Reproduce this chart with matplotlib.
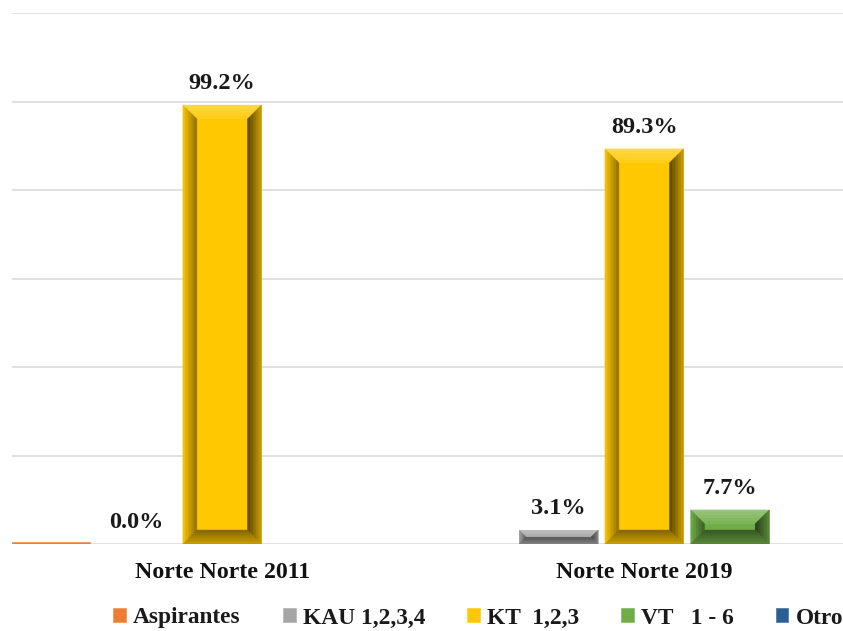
import numpy as np
import matplotlib
matplotlib.use("Agg")
import matplotlib.pyplot as plt
from matplotlib.patches import Polygon
from matplotlib.colors import to_rgb

# grouped bar chart, beveled bars like the office chart style
categories = ["Norte Norte 2011", "Norte Norte 2019"]
series = ["Aspirantes", "KAU 1,2,3,4", "KT  1,2,3", "VT   1 - 6", "Otro"]
colors = ["#ED7D31", "#A5A5A5", "#FFC800", "#70AD47", "#2B5F91"]

aspirantes = [0.4, 0.0]
kau = [0.0, 3.1]
kt = [99.2, 89.3]
vt = [0.0, 7.7]
otro = [0.0, 0.0]
values = [aspirantes, kau, kt, vt, otro]

# which bars carry a data label
labels_on = [[False, False], [True, True], [True, True], [False, True], [False, False]]

plt.rcParams['font.family'] = ['Liberation Serif', 'DejaVu Serif']
plt.rcParams['font.weight'] = 'bold'

fig = plt.figure(figsize=(8.43, 6.31), dpi=100)
ax = fig.add_axes([12 / 843, 87 / 631, 831 / 843, 0.8415])

x = np.arange(len(categories))
step = 0.203
width = 0.186

ax.set_xlim(-0.498, 1.471)
ax.set_ylim(0, 120)
ax.set_yticks(np.arange(0, 121, 20))
ax.yaxis.grid(True, color="#D9D9D9", lw=1.1)
ax.set_axisbelow(True)
ax.tick_params(axis="y", length=0, labelleft=False)
ax.tick_params(axis="x", length=0, pad=13, labelsize=17.2, labelcolor="#111111")
for s in ax.spines.values():
    s.set_visible(False)
ax.set_xticks(x)
ax.set_xticklabels(categories, fontweight="bold")


def shade(c, f):
    r = np.array(to_rgb(c))
    if f >= 1:
        return tuple(r + (1 - r) * (f - 1))
    return tuple(r * f)


def bevel(rect, base):
    # draw four shaded bevel sides over a bar, 14 px wide
    x0, y0 = rect.get_x(), rect.get_y()
    w, h = rect.get_width(), rect.get_height()
    (px0, py0), (px1, py1) = ax.transData.transform([(x0, y0), (x0 + w, y0 + h)])
    hp = py1 - py0
    if hp < 3:
        return
    b = min(14, hp / 2, (px1 - px0) / 2)
    inv = ax.transData.inverted()
    n = 5
    sides = {
        "top": (1.3, 1.08),
        "left": (1.0, 0.55),
        "right": (0.8, 0.35),
        "bottom": (0.8, 0.5),
    }
    for k in range(n):
        o, i = b * k / n, b * (k + 1) / n
        t = (k + 0.5) / n
        for side, (fo, fi) in sides.items():
            col = shade(base, fo + (fi - fo) * t)
            if side == "top":
                pts = [(px0 + o, py1 - o), (px1 - o, py1 - o), (px1 - i, py1 - i), (px0 + i, py1 - i)]
            elif side == "bottom":
                pts = [(px0 + o, py0 + o), (px1 - o, py0 + o), (px1 - i, py0 + i), (px0 + i, py0 + i)]
            elif side == "left":
                pts = [(px0 + o, py0 + o), (px0 + o, py1 - o), (px0 + i, py1 - i), (px0 + i, py0 + i)]
            else:
                pts = [(px1 - o, py0 + o), (px1 - o, py1 - o), (px1 - i, py1 - i), (px1 - i, py0 + i)]
            ax.add_patch(Polygon(inv.transform(pts), closed=True, facecolor=col,
                                 edgecolor=col, lw=0.3, zorder=3))


for si, (name, vals, col) in enumerate(zip(series, values, colors)):
    bars = ax.bar(x + (si - 2) * step, vals, width, color=col, label=name,
                  zorder=2, edgecolor=shade(col, 1.2), linewidth=0.6)
    for ci, rect in enumerate(bars):
        bevel(rect, col)
        if labels_on[si][ci]:
            ax.annotate(f"{vals[ci]:.1f}%", (rect.get_x() + rect.get_width() / 2, rect.get_height()),
                        xytext=(0, 8), textcoords="offset points", ha="center", va="bottom",
                        fontsize=17.5, fontweight="bold", color="#1a1a1a")

leg = fig.legend(loc="center left", bbox_to_anchor=(104 / 843, 1 - 618 / 631), ncol=5,
                 frameon=False, fontsize=16.8, handlelength=0.55, handleheight=0.55,
                 handletextpad=0.3, columnspacing=1.8, borderaxespad=0)
for t in leg.get_texts():
    t.set_fontweight("bold")
    t.set_color("#1a1a1a")

fig.savefig("out.png", dpi=100)
